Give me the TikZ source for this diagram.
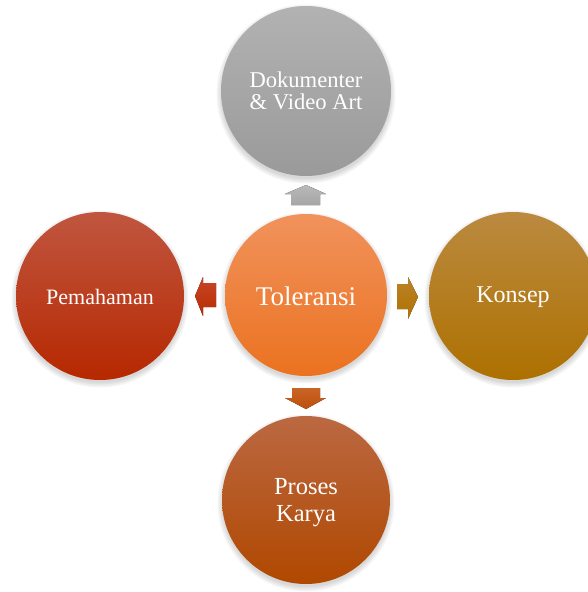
\documentclass[tikz,border=0pt]{standalone}
\usepackage{fontspec}
\setmainfont{Liberation Serif}
\begin{document}
\begin{tikzpicture}[x=1pt,y=-1pt,
  bub/.style={circle,minimum size=#1,inner sep=0pt,text=white,align=center},
  shad/.style={fill=black,opacity=0.04},
  blk/.style={draw=none}]
\useasboundingbox (0,0) rectangle (588,592);
\fill[white] (0,0) rectangle (588,592);
% shadows
\foreach \x/\y/\r in {306/91/85, 306/295/81, 100/296/84, 513/296/84, 306/500/84}{
  \foreach \d in {0,1.5,3,4.5}{
    \fill[shad] (\x,\y+3) circle ({\r+\d});
  }
}
% circles
\shade[top color={rgb,255:red,178;green,178;blue,178}, bottom color={rgb,255:red,154;green,154;blue,154}] (306,91) circle (85);
\node[bub=170pt] (doc) at (306,91) {};
\shade[top color={rgb,255:red,241;green,146;blue,92}, bottom color={rgb,255:red,235;green,114;blue,32}] (306,295) circle (81);
\node[bub=162pt] (tol) at (306,295) {};
\shade[top color={rgb,255:red,192;green,86;blue,64}, bottom color={rgb,255:red,182;green,40;blue,0}] (100,296) circle (84);
\node[bub=168pt] (pem) at (100,296) {};
\shade[top color={rgb,255:red,187;green,138;blue,64}, bottom color={rgb,255:red,173;green,112;blue,0}] (513,296) circle (84);
\node[bub=168pt] (kon) at (513,296) {};
\shade[top color={rgb,255:red,187;green,104;blue,66}, bottom color={rgb,255:red,176;green,72;blue,0}] (306,500) circle (84);
\node[bub=168pt] (pro) at (306,500) {};
% texts
\node[text=white,font=\fontsize{22.6}{23}\selectfont,align=center] at (306,91) {Dokumenter\\[-1pt]\& Video Art};
\node[text=white,font=\fontsize{27}{30}\selectfont] at (306,296) {Toleransi};
\node[text=white,font=\fontsize{22}{26}\selectfont] at (100,297) {Pemahaman};
\node[text=white,font=\fontsize{24}{26}\selectfont] at (513,297) {Konsep};
\node[text=white,font=\fontsize{24.5}{27}\selectfont,align=center] at (306,503) {Proses\\Karya};
% block arrows
\fill[blk,top color=gray!55,bottom color=gray!70] (291,205) -- (320,205) -- (320,194) -- (326,194) -- (306,185) -- (285,194) -- (291,194) -- cycle;
\fill[blk,top color={rgb,255:red,200;green,100;blue,40},bottom color={rgb,255:red,190;green,80;blue,10}] (292,388) -- (320,388) -- (320,398) -- (326,398) -- (306,409) -- (285,398) -- (292,398) -- cycle;
\fill[blk,top color={rgb,255:red,200;green,70;blue,40},bottom color={rgb,255:red,184;green,44;blue,0}] (216,283) -- (216,307) -- (203,307) -- (203,316) -- (195,296) -- (203,277) -- (203,283) -- cycle;
\fill[blk,top color={rgb,255:red,188;green,130;blue,40},bottom color={rgb,255:red,176;green,114;blue,0}] (397,284) -- (397,309) -- (408,309) -- (408,319) -- (418,297) -- (408,277) -- (408,284) -- cycle;
\end{tikzpicture}
\end{document}
